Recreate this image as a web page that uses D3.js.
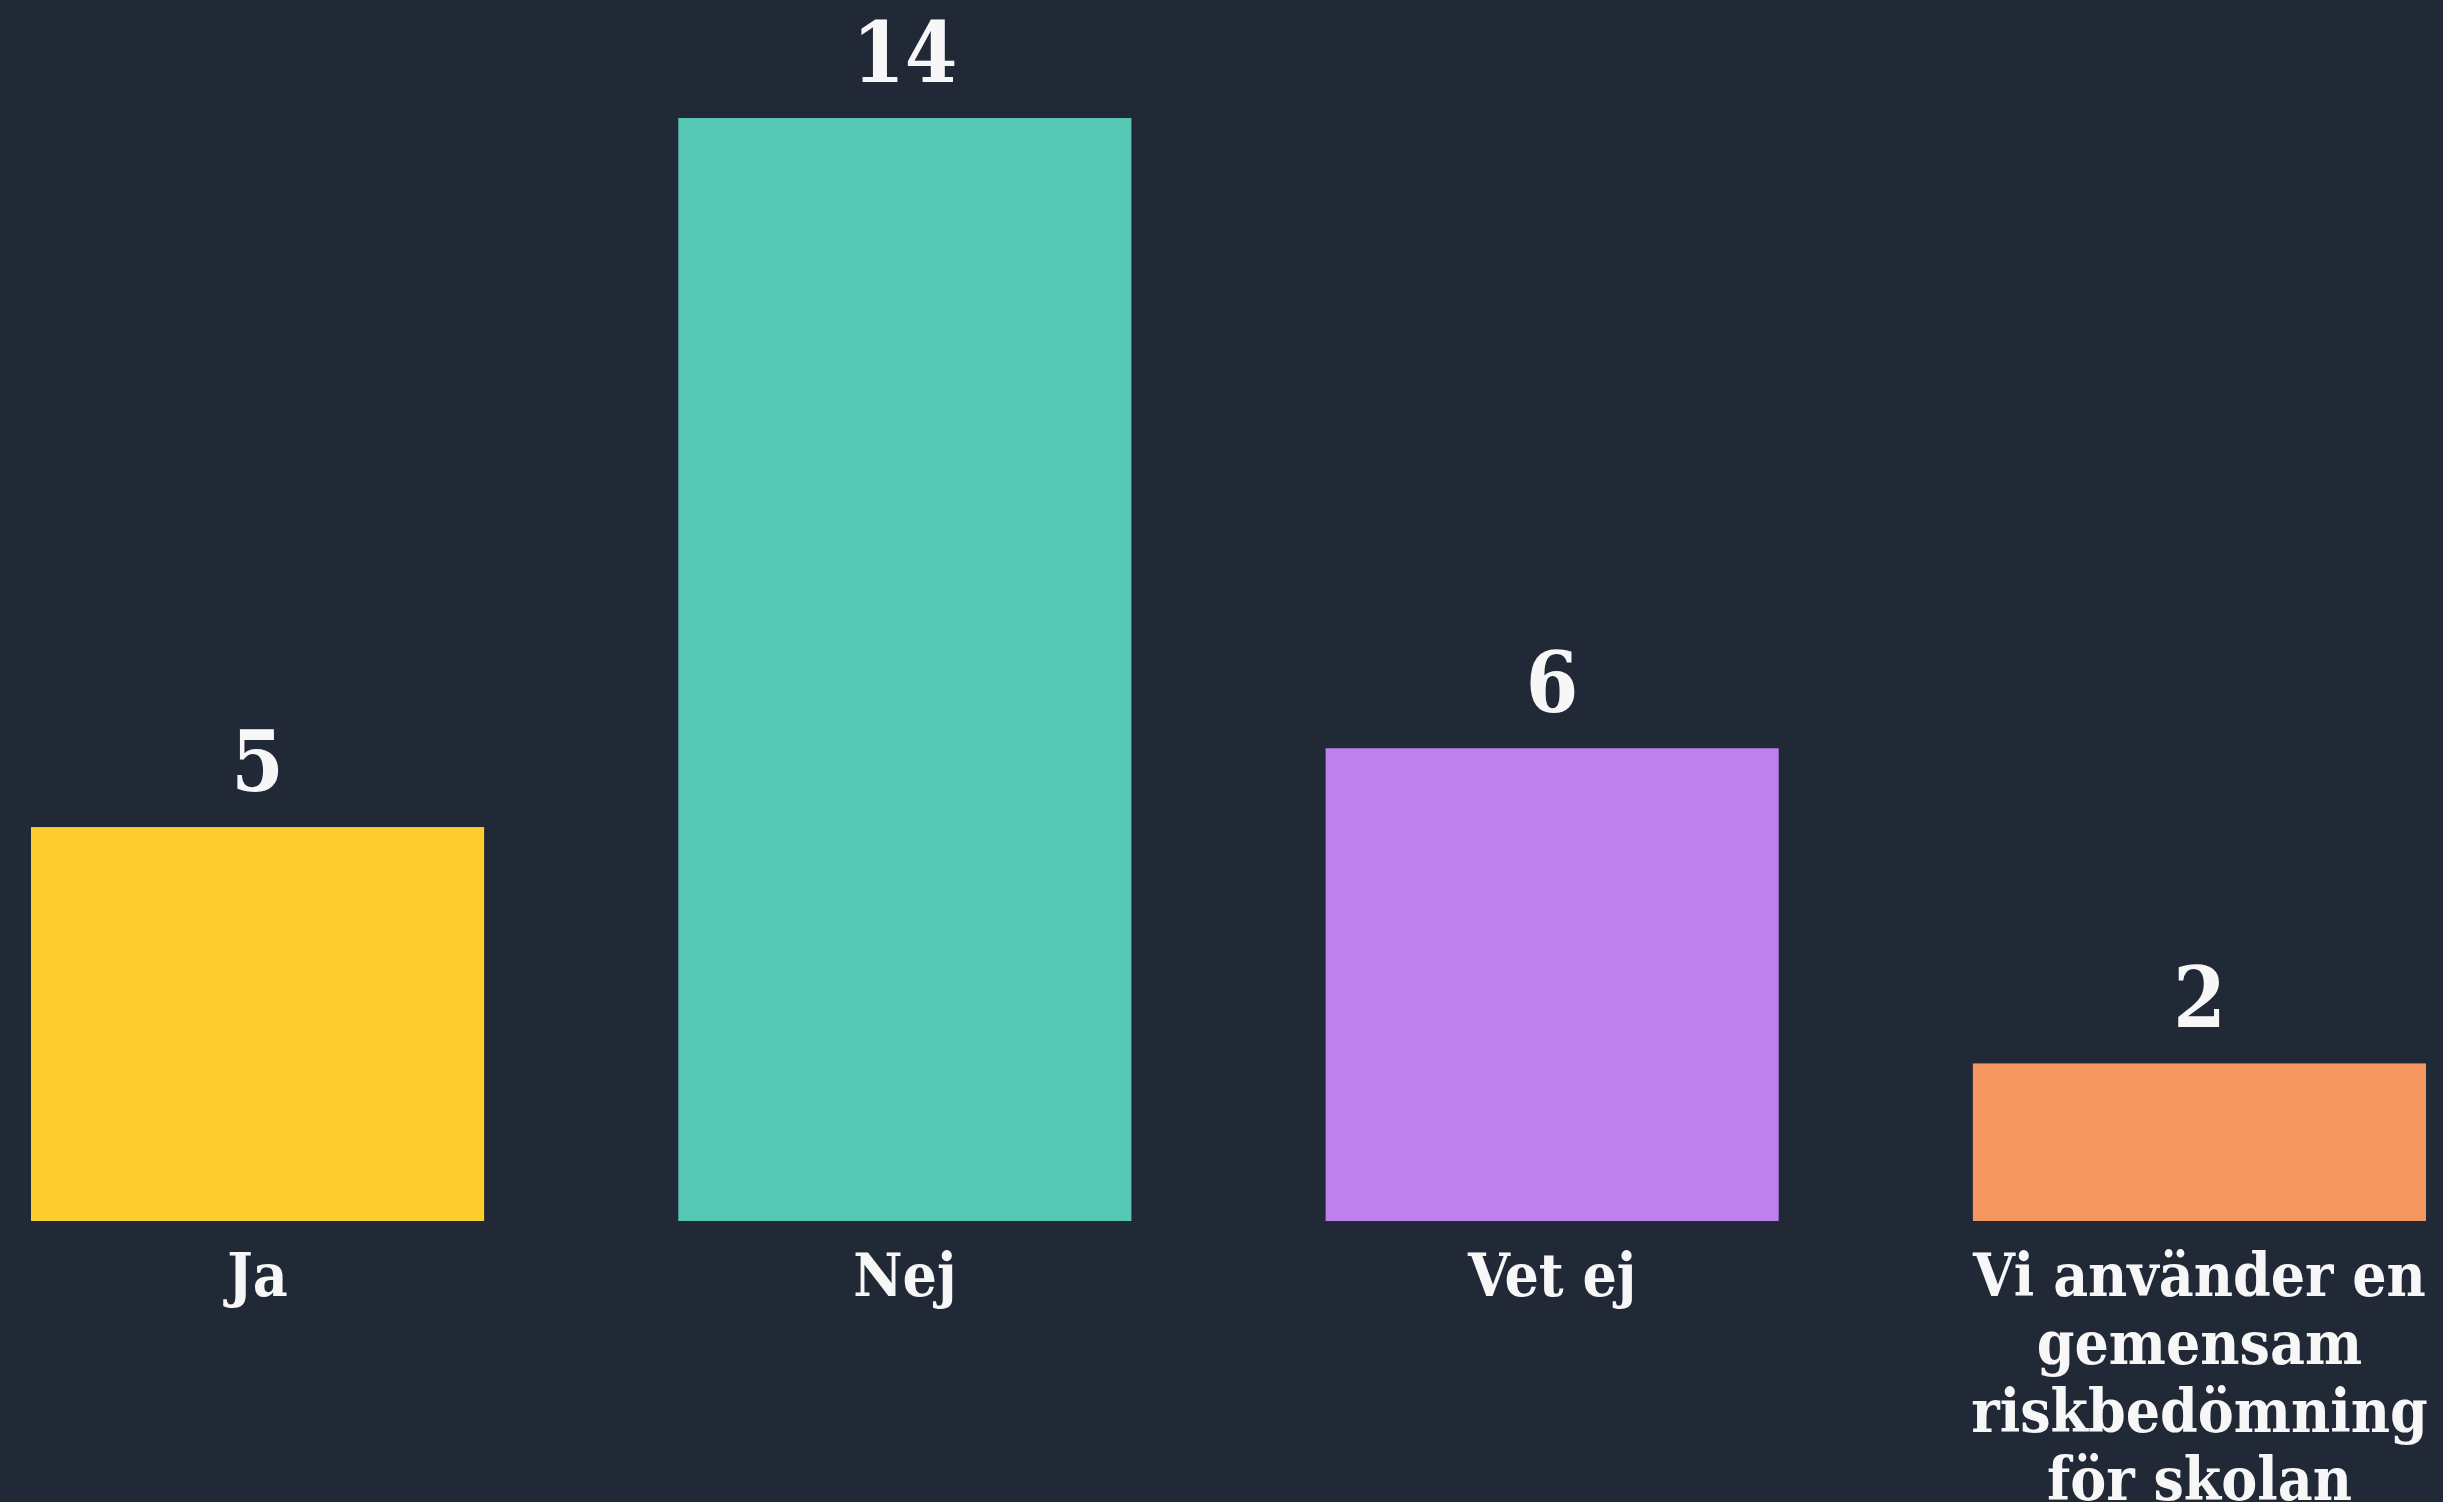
<!DOCTYPE html>
<html>
    <head>
        <meta charset="UTF-8">
        <title>Riskbedömning</title>
        <script src="https://d3js.org/d3.v7.min.js"></script>
        <style>
            body {
                margin:0;
                padding:0;
                background: #212936;
            }
            svg { display: block; }
        </style>
    </head>
    <body>
        <div id="chart"></div>
        <script>
            // categories (with line breaks for the long one), values and bar colours
            var categories = ["Ja", "Nej", "Vet ej", "Vi använder en gemensam riskbedömning för skolan"];
            var labelLines = [["Ja"], ["Nej"], ["Vet ej"], ["Vi använder en", "gemensam", "riskbedömning", "för skolan"]];
            var values = [5, 14, 6, 2];
            var colors = ["#FECE2E", "#56C6B5", "#BE80EC", "#F69762"];

            var svgWidth = 2443;
            var svgHeight = 1502;
            var fontFamily = "'DejaVu Serif Condensed', 'DejaVu Serif', serif";

            var svg = d3.select('#chart').append('svg')
                .attr('width', svgWidth)
                .attr('height', svgHeight);

            svg.append('rect')
                .attr('width', svgWidth)
                .attr('height', svgHeight)
                .attr('fill', '#212936');

            // x is a band scale over the categories, y linear from zero
            var x = d3.scaleBand()
                .domain(categories)
                .range([31, 2426])
                .paddingInner(0.3)
                .paddingOuter(0);
            var y = d3.scaleLinear()
                .domain([0, d3.max(values)])
                .range([1221, 118]);

            var data = categories.map((c, i) => ({cat: c, value: values[i], color: colors[i], lines: labelLines[i]}));

            // bars
            svg.selectAll('.bar')
                .data(data)
                .enter().append('rect')
                .attr('class', 'bar')
                .attr('x', d => x(d.cat))
                .attr('y', d => y(d.value))
                .attr('width', x.bandwidth())
                .attr('height', d => y(0) - y(d.value))
                .attr('fill', d => d.color);

            // value labels above each bar
            svg.selectAll('.value')
                .data(data)
                .enter().append('text')
                .attr('class', 'value')
                .attr('x', d => x(d.cat) + x.bandwidth() / 2)
                .attr('y', d => y(d.value) - 36)
                .attr('text-anchor', 'middle')
                .style('font-family', fontFamily)
                .style('font-weight', 'bold')
                .style('font-size', '84px')
                .style('fill', '#F7F7F7')
                .text(d => d.value);

            // category labels under the bars, one tspan per line
            var labels = svg.selectAll('.cat')
                .data(data)
                .enter().append('text')
                .attr('class', 'cat')
                .attr('text-anchor', 'middle')
                .style('font-family', fontFamily)
                .style('font-weight', 'bold')
                .style('font-size', '60px')
                .style('fill', '#F7F7F7');
            labels.selectAll('tspan')
                .data(d => d.lines.map(l => ({text: l, cx: x(d.cat) + x.bandwidth() / 2})))
                .enter().append('tspan')
                .attr('x', t => t.cx)
                .attr('y', (t, i) => y(0) + 75 + i * 68)
                .text(t => t.text);
        </script>
    </body>
</html>
